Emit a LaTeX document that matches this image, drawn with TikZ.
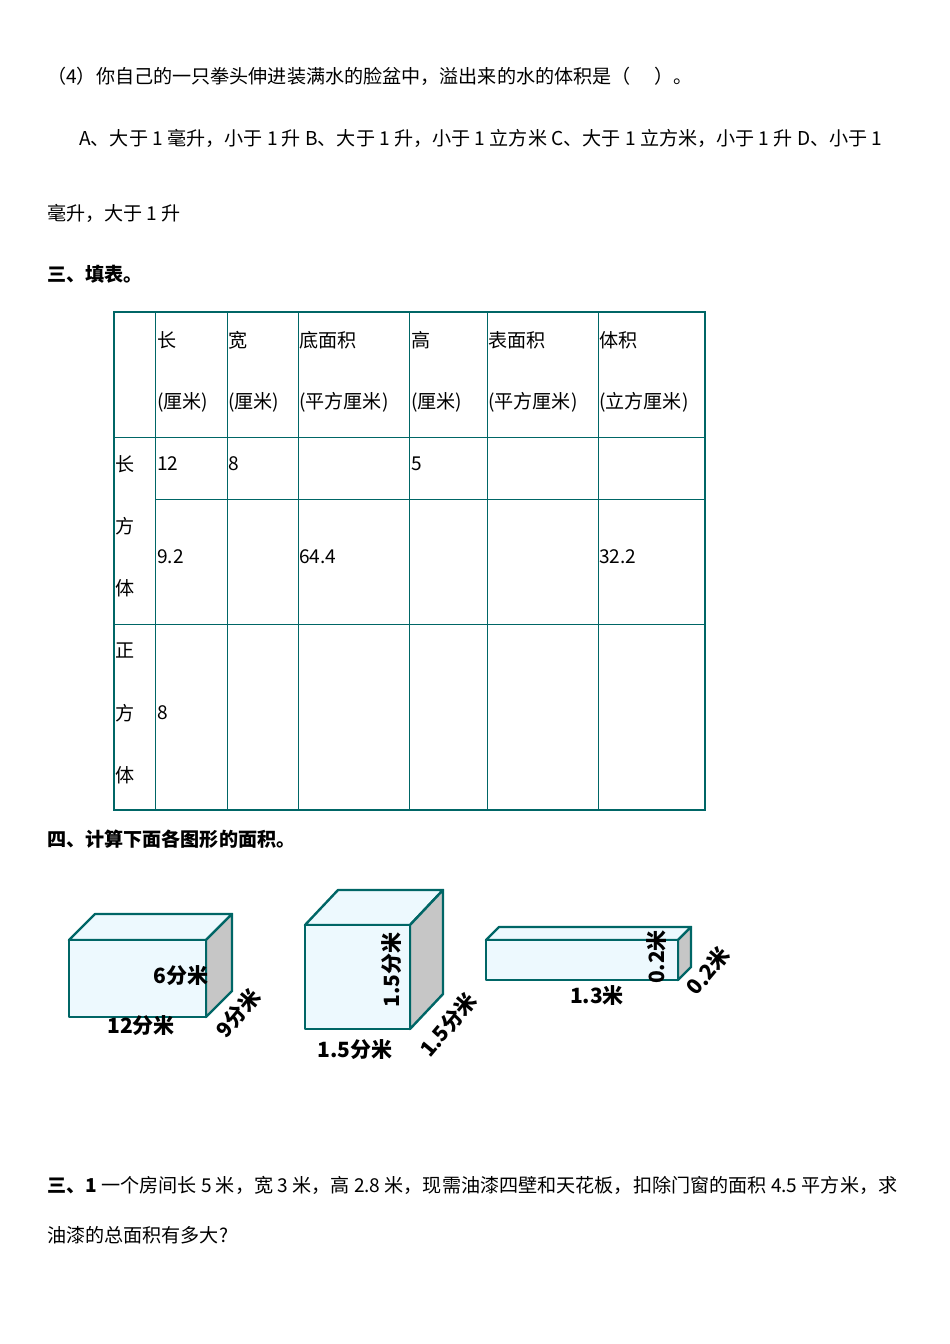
\documentclass[tikz,border=0pt]{standalone}
\usepackage{fontspec}
\setmainfont{Noto Sans CJK SC}
\begin{document}
\begin{tikzpicture}[x=1pt,y=-1pt,
  txt/.style={anchor=west,inner sep=0pt,font=\fontsize{19.1}{22}\selectfont},
  lab/.style={inner sep=0pt,font=\fontsize{21}{24}\selectfont\bfseries},
  thick line/.style={draw=teal!80!black,line width=2.2pt},
  thin line/.style={draw=teal!80!black,line width=0.9pt},
  front/.style={fill=cyan!7,draw=teal!80!black,line width=2.4pt,line join=round},
  side/.style={fill=gray!45,draw=teal!80!black,line width=2.4pt,line join=round}]
\useasboundingbox (0,0) rectangle (950,1344);
\node[txt] (q4) at (47,76) {（4）你自己的一只拳头伸进装满水的脸盆中，溢出来的水的体积是（\quad\ ）。};
\node[txt] (qa) at (79,138) {A、大于 1 毫升，小于 1 升 B、大于 1 升，小于 1 立方米 C、大于 1 立方米，小于 1 升 D、小于 1};
\node[txt] (qb) at (47,213) {毫升，大于 1 升};
\node[txt,font=\fontsize{19.1}{22}\selectfont\bfseries] (s3) at (47,274) {三、填表。};
% table
\foreach \x in {227,298,409,487,598} \draw[thin line] (\x,312) -- (\x,810);
\draw[thin line] (155,312) -- (155,810);
\draw[thin line] (114,437) -- (705,437);
\draw[thin line] (155,499) -- (705,499);
\draw[thin line] (114,624) -- (705,624);
\draw[thick line] (114,312) rectangle (705,810);
\foreach \x/\a/\b in {157/长/(厘米),228/宽/(厘米),299/底面积/(平方厘米),411/高/(厘米),488/表面积/(平方厘米),599/体积/(立方厘米)}{
  \node[txt] at (\x,340) {\a}; \node[txt] at (\x,402) {\b};}
\node[txt] (c1) at (115,464) {长};
\node[txt] (c2) at (115,526) {方};
\node[txt] (c3) at (115,588) {体};
\node[txt] (d1) at (115,651) {正};
\node[txt] (d2) at (115,713) {方};
\node[txt] (d3) at (115,775) {体};
\node[txt] at (157,464) {12};
\node[txt] at (228,464) {8};
\node[txt] at (411,464) {5};
\node[txt] at (157,557) {9.2};
\node[txt] at (299,557) {64.4};
\node[txt] at (599,557) {32.2};
\node[txt] at (157,713) {8};
\node[txt,font=\fontsize{19.1}{22}\selectfont\bfseries] (s4) at (47,839) {四、计算下面各图形的面积。};
% box 1
\draw[front] (69,940) -- (95,914) -- (232,914) -- (206,940) -- cycle;
\draw[side] (206,940) -- (232,914) -- (232,991) -- (206,1017) -- cycle;
\draw[front] (69,940) rectangle (206,1017);
\node[lab] (l1) at (181,976) {6分米};
\node[lab] (l2) at (141,1026) {12分米};
\node[lab,rotate=50] (l3) at (238,1013) {9分米};
% box 2
\draw[front] (305,925) -- (338,890) -- (443,890) -- (410,925) -- cycle;
\draw[side] (410,925) -- (443,890) -- (443,994) -- (410,1029) -- cycle;
\draw[front] (305,925) rectangle (410,1029);
\node[lab,rotate=90] (m1) at (392,970) {1.5分米};
\node[lab] (m2) at (355,1050) {1.5分米};
\node[lab,rotate=50] (m3) at (448,1025) {1.5分米};
% box 3
\draw[front] (486,940) -- (499,927) -- (691,927) -- (678,940) -- cycle;
\draw[side] (678,940) -- (691,927) -- (691,967) -- (678,980) -- cycle;
\draw[front] (486,940) rectangle (678,980);
\node[lab,rotate=90] (n1) at (657,957) {0.2米};
\node[lab] (n2) at (597,996) {1.3米};
\node[lab,rotate=50] (n3) at (708,971) {0.2米};
\node[txt] (p1) at (47,1185) {\textbf{三、1} 一个房间长 5 米，宽 3 米，高 2.8 米，现需油漆四壁和天花板，扣除门窗的面积 4.5 平方米，求};
\node[txt] (p2) at (47,1235) {油漆的总面积有多大?};
\end{tikzpicture}
\end{document}
